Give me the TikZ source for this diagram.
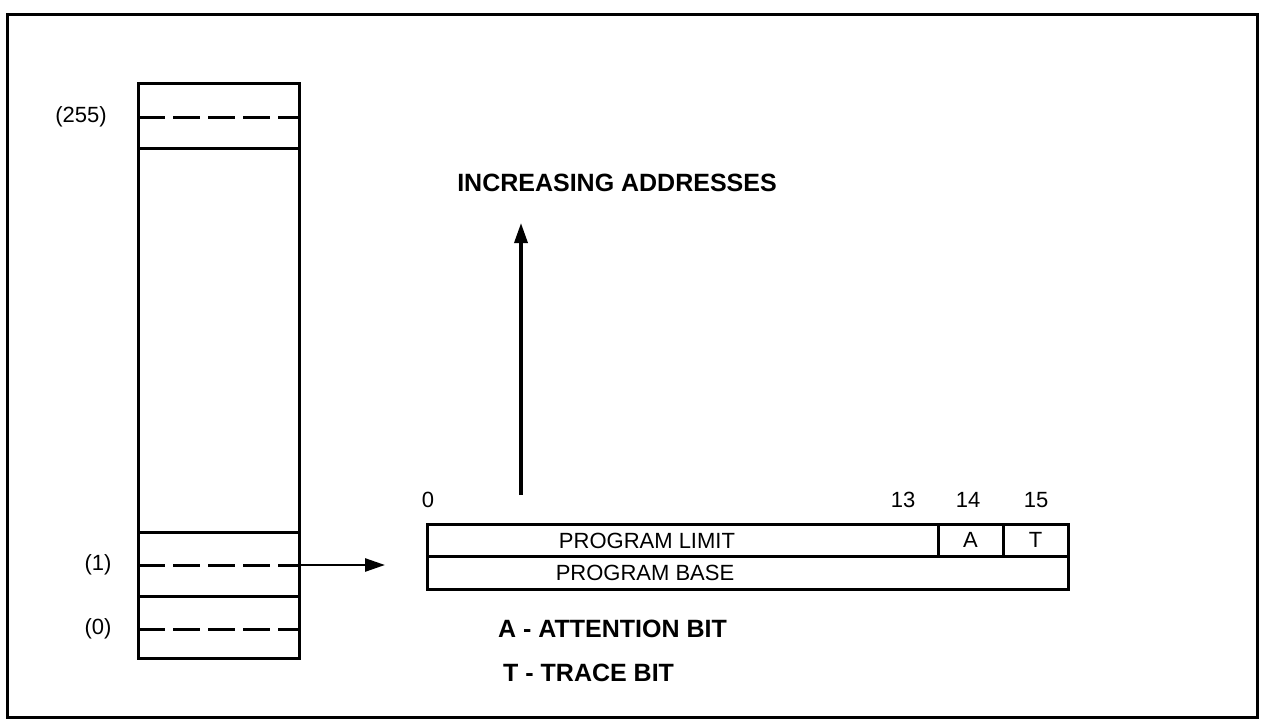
\documentclass[tikz,border=0pt]{standalone}
\usepackage{fontspec}
\setmainfont{Liberation Sans}
\usetikzlibrary{arrows.meta,positioning,calc}

\begin{document}
\begin{tikzpicture}[
  x=1pt, y=-1pt,
  every node/.style={font=\fontsize{22}{26}\selectfont, inner sep=0pt},
  bold/.style={font=\fontsize{25}{30}\selectfont\bfseries},
  frame/.style={draw, line width=3pt},
  cell/.style={draw, line width=3pt, outer sep=0pt, anchor=north west, minimum height=32pt},
  slot/.style={line width=3pt},
  dashslot/.style={line width=3pt, dash pattern=on 27pt off 8pt},
  line/.style={-{Triangle[length=20pt,width=13pt]}, line width=2.6pt}
]
\useasboundingbox (0,0) rectangle (1262,723);

% ===== Outer frame =====
\draw[frame] (7,14) rectangle (1257,717);

% ===== Segment table column =====
\node[draw, line width=3pt, outer sep=0pt, anchor=north west, minimum width=161pt, minimum height=575pt] (stack) at (138,83) {};
\foreach \y in {148,532,596}
  \draw[slot] (stack.west |- 0,\y) -- (stack.east |- 0,\y);
\foreach \y in {117,565,629}
  \draw[dashslot] (stack.west |- 0,\y) -- (stack.east |- 0,\y);

\node (n255) at (81,117) {(255)};
\node (n1) at (98,565) {(1)};
\node (n0) at (98,629) {(0)};

% ===== Segment descriptor =====
\node[cell, minimum width=511pt] (limit) at (427,524) {};
\node[cell, minimum width=65pt] (abit) at (938,524) {};
\node[cell, minimum width=65pt] (tbit) at (1003,524) {};
\node[cell, minimum width=641pt, minimum height=33pt] (base) at (limit.south west) {};

\node at (647,541) (limittxt) {PROGRAM LIMIT};
\node at (abit.center) (atxt) {A};
\node at (tbit.center) (ttxt) {T};
\node at (645,573) (basetxt) {PROGRAM BASE};

% bit positions
\node (b0) at (428,500) {0};
\node (b13) at (903,500) {13};
\node (b14) at (968,500) {14};
\node (b15) at (1036,500) {15};

% ===== Arrows and legend =====
\coordinate (entry) at (385,565);
\draw[line] (stack.east |- entry) -- (entry);

\node[bold] (addr) at (617,183) {INCREASING ADDRESSES};
\coordinate (upfoot) at (521,495);
\coordinate (uptip) at (521,223);
\draw[line, line width=3.4pt] (upfoot) -- (uptip);

\node[bold, anchor=west] (akey) at (498,629) {A - ATTENTION BIT};
\node[bold, anchor=west] (tkey) at (503,673) {T - TRACE BIT};
\end{tikzpicture}
\end{document}
